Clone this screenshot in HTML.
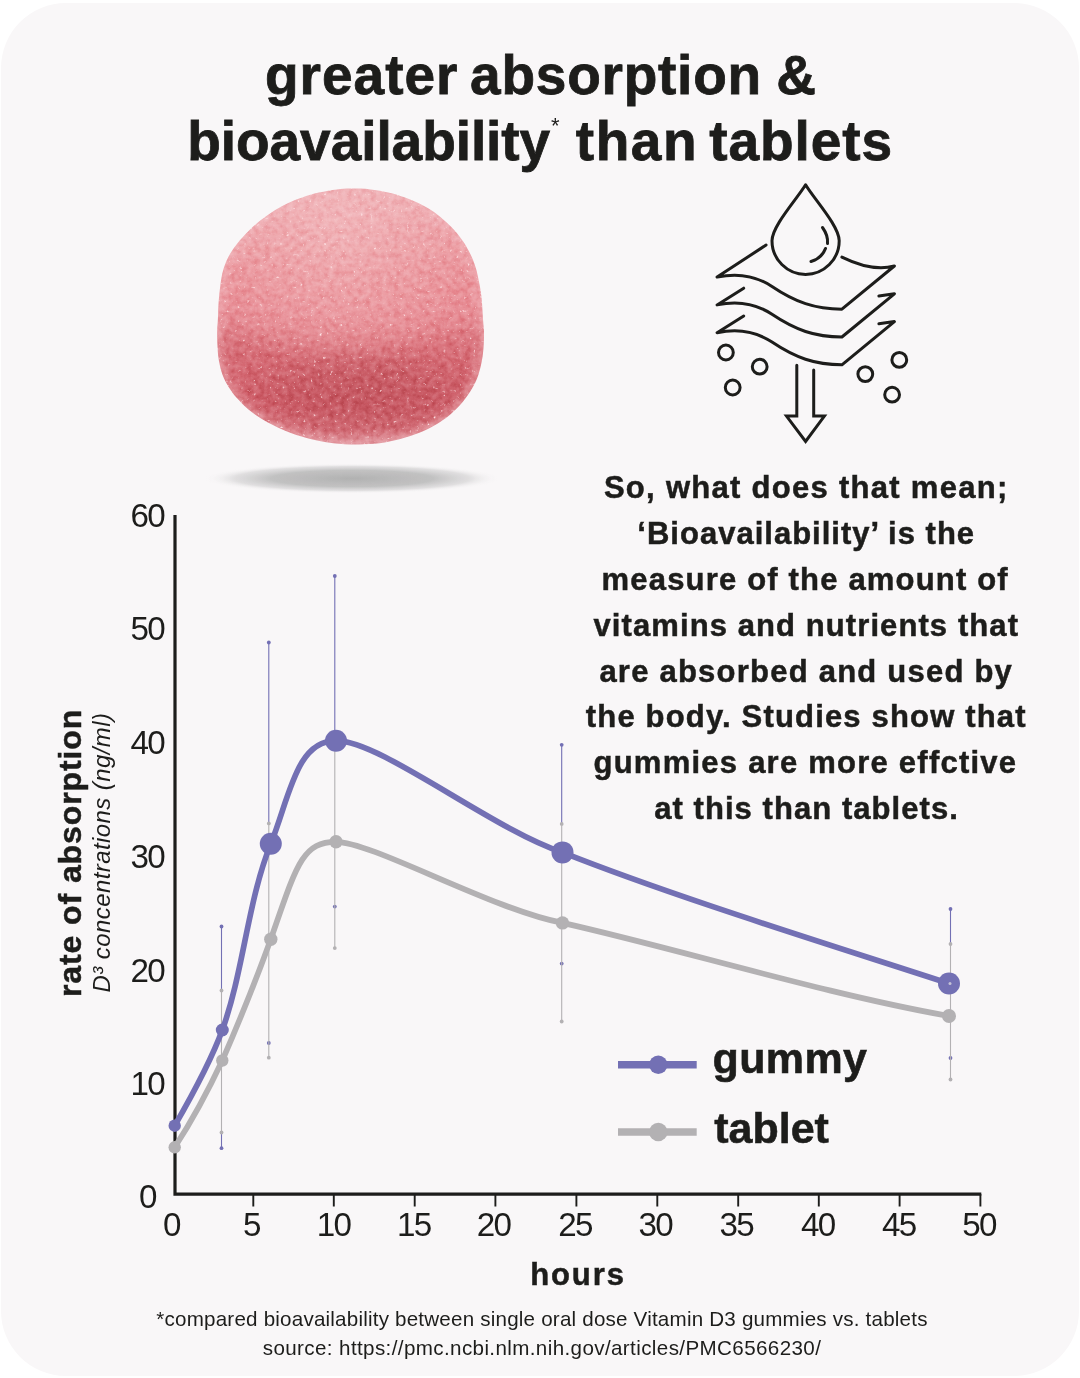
<!DOCTYPE html>
<html lang="en">
<head>
<meta charset="utf-8">
<title>greater absorption &amp; bioavailability than tablets</title>
<style>
  html,body{margin:0;padding:0;background:#ffffff;}
  body{width:1080px;height:1378px;position:relative;overflow:hidden;
       font-family:"Liberation Sans",Arial,Helvetica,sans-serif;color:#1d1d1b;}
  #card{position:absolute;left:1.3px;top:2.6px;width:1077.7px;height:1373.6px;
        border-radius:65px;background:#f9f7f8;}
  h1,#para,#foot{will-change:transform;}
  h1{margin:0;font-weight:bold;font-size:55px;line-height:66px;position:absolute;left:0;top:0;width:1080px;
     -webkit-text-stroke:0.8px #1d1d1b;}
  h1 span{position:absolute;white-space:nowrap;display:block;}
  #t1a{left:265px;top:41.8px;letter-spacing:1.0px;}
  #t1b{left:470.1px;top:41.8px;letter-spacing:0.76px;}
  #t1c{left:776.2px;top:41.8px;}
  #t2a{left:187.3px;top:108.4px;letter-spacing:-0.06px;}
  #t2b{left:551px;top:115px;font-size:22px;font-weight:normal;line-height:22px;-webkit-text-stroke:0;}
  #t2c{left:575.8px;top:108.4px;letter-spacing:1.58px;}
  #t2d{left:709.2px;top:108.4px;letter-spacing:0.95px;}
  #para{position:absolute;left:0;top:0;width:1080px;margin:0;
        font-weight:bold;font-size:31px;line-height:45.85px;letter-spacing:1.15px;-webkit-text-stroke:0.5px #1d1d1b;}
  #para span{position:absolute;display:block;white-space:nowrap;}
  #p1{left:603.9px;top:465.1px;letter-spacing:1.29px;}
  #p2{left:637.3px;top:510.95px;letter-spacing:1.01px;}
  #p3{left:601.6px;top:556.8px;letter-spacing:1.18px;}
  #p4{left:593.5px;top:602.65px;letter-spacing:1.09px;}
  #p5{left:599.4px;top:648.5px;letter-spacing:1.23px;}
  #p6{left:585.8px;top:694.35px;letter-spacing:1.17px;}
  #p7{left:593.5px;top:740.2px;letter-spacing:1.24px;}
  #p8{left:654.2px;top:786.05px;letter-spacing:1.06px;}
  #foot{position:absolute;left:2px;width:1080px;top:1304.5px;margin:0;text-align:center;
        font-size:20.6px;line-height:28.6px;letter-spacing:0.38px;}
  #foot span{display:block;white-space:nowrap;}
  svg{position:absolute;left:0;top:0;}
  svg text{font-family:"Liberation Sans",Arial,Helvetica,sans-serif;fill:#1d1d1b;}
</style>
</head>
<body>
<div id="card"></div>

<h1><span id="t1a">greater</span> <span id="t1b">absorption</span> <span id="t1c">&amp;</span> <span id="t2a">bioavailability</span><span id="t2b">*</span> <span id="t2c">than</span> <span id="t2d">tablets</span></h1>

<p id="para">
<span id="p1">So, what does that mean;</span>
<span id="p2">‘Bioavailability’ is the</span>
<span id="p3">measure of the amount of</span>
<span id="p4">vitamins and nutrients that</span>
<span id="p5">are absorbed and used by</span>
<span id="p6">the body. Studies show that</span>
<span id="p7">gummies are more effctive</span>
<span id="p8">at this than tablets.</span>
</p>

<svg id="art" width="1080" height="1378" viewBox="0 0 1080 1378">
  <defs>
    <linearGradient id="gv" gradientUnits="userSpaceOnUse" x1="0" y1="188" x2="0" y2="445">
      <stop offset="0" stop-color="#e38b90"/>
      <stop offset="0.5" stop-color="#dc7a83"/>
      <stop offset="0.68" stop-color="#d56a74"/>
      <stop offset="0.84" stop-color="#d0606b"/>
      <stop offset="0.94" stop-color="#d36c76"/>
      <stop offset="1" stop-color="#dc8c95"/>
    </linearGradient>
    <linearGradient id="gtop" gradientUnits="userSpaceOnUse" x1="0" y1="188" x2="0" y2="347">
      <stop offset="0" stop-color="#f0b0b5"/>
      <stop offset="0.2" stop-color="#eca1a7"/>
      <stop offset="0.55" stop-color="#e99299"/>
      <stop offset="0.85" stop-color="#e78c94"/>
      <stop offset="1" stop-color="#e28089"/>
    </linearGradient>
    <radialGradient id="gh" gradientUnits="userSpaceOnUse" cx="340" cy="235" r="140">
      <stop offset="0" stop-color="#f8d0d2" stop-opacity="0.4"/>
      <stop offset="1" stop-color="#f8d0d2" stop-opacity="0"/>
    </radialGradient>
    <radialGradient id="gdark" gradientUnits="userSpaceOnUse" cx="0" cy="0" r="1" gradientTransform="translate(362,392) scale(125,46)">
      <stop offset="0" stop-color="#b2464f" stop-opacity="0.36"/>
      <stop offset="0.6" stop-color="#b2464f" stop-opacity="0.2"/>
      <stop offset="1" stop-color="#b2464f" stop-opacity="0"/>
    </radialGradient>
    <path id="gpath" d="M350.0,188.6 C355.6,188.6 363.9,188.6 370.8,189.4 C377.8,190.2 385.4,191.6 391.7,193.2 C397.9,194.8 403.2,196.8 408.3,198.8 C413.4,200.8 417.8,202.7 422.2,205.0 C426.6,207.3 430.8,209.8 434.7,212.6 C438.6,215.4 442.3,218.6 445.8,221.7 C449.3,224.8 452.6,227.9 455.6,231.4 C458.6,234.9 461.4,238.6 463.9,242.5 C466.4,246.4 468.8,250.8 470.8,255.0 C472.8,259.2 474.3,262.9 475.7,267.5 C477.1,272.1 478.2,277.7 479.2,282.8 C480.2,287.9 481.0,292.1 481.6,298.1 C482.2,304.1 482.6,313.2 483.0,318.9 C483.4,324.5 483.9,327.4 484.0,332.0 C484.1,336.6 484.0,341.9 483.6,346.7 C483.2,351.5 482.8,356.0 481.9,360.6 C481.0,365.2 480.1,369.8 478.5,374.4 C476.9,379.0 474.9,383.7 472.2,388.3 C469.5,392.9 466.2,397.8 462.5,402.2 C458.8,406.6 454.4,411.0 450.0,414.7 C445.6,418.4 441.2,421.4 436.1,424.4 C431.0,427.4 424.9,430.5 419.4,432.8 C413.8,435.1 408.6,436.7 402.8,438.3 C397.0,439.9 391.2,441.5 384.7,442.5 C378.2,443.5 370.7,444.0 363.9,444.3 C357.1,444.6 350.7,444.6 343.9,444.2 C337.1,443.8 329.6,442.9 323.1,441.8 C316.6,440.7 310.8,439.2 305.0,437.6 C299.2,436.0 293.4,434.1 288.3,432.1 C283.2,430.1 279.0,428.1 274.4,425.8 C269.8,423.5 265.0,421.0 260.6,418.2 C256.2,415.4 252.1,412.5 248.1,409.2 C244.1,405.9 240.2,401.8 236.9,398.1 C233.7,394.4 231.0,390.8 228.6,386.9 C226.2,382.9 224.0,378.8 222.4,374.4 C220.8,370.0 219.7,365.2 218.9,360.6 C218.1,356.0 217.8,351.8 217.5,346.7 C217.2,341.6 217.1,334.6 217.2,330.0 C217.3,325.4 217.7,323.5 217.9,318.9 C218.1,314.3 218.2,307.8 218.6,302.2 C219.0,296.6 219.6,290.9 220.3,285.6 C221.1,280.3 221.7,275.2 223.1,270.3 C224.5,265.4 226.3,260.8 228.6,256.4 C230.9,252.0 233.7,248.1 236.9,243.9 C240.2,239.7 244.1,235.3 248.1,231.4 C252.1,227.5 256.2,223.8 260.6,220.3 C265.0,216.8 269.8,213.5 274.4,210.6 C279.0,207.7 283.7,205.1 288.3,202.9 C292.9,200.7 297.1,199.1 302.2,197.4 C307.3,195.7 313.1,193.8 318.9,192.5 C324.7,191.2 331.7,190.1 336.9,189.4 C342.1,188.8 344.4,188.6 350.0,188.6 Z"/>
    <clipPath id="gclip"><use href="#gpath"/></clipPath>
    <filter id="b4" filterUnits="userSpaceOnUse" x="190" y="160" width="320" height="310"><feGaussianBlur stdDeviation="4"/></filter>
    <filter id="b6" filterUnits="userSpaceOnUse" x="100" y="130" width="500" height="360"><feGaussianBlur stdDeviation="13"/></filter>
    <radialGradient id="sh" cx="0.5" cy="0.5" r="0.5">
      <stop offset="0" stop-color="#adadad" stop-opacity="0.95"/>
      <stop offset="0.55" stop-color="#b8b8b8" stop-opacity="0.85"/>
      <stop offset="0.8" stop-color="#cfcecf" stop-opacity="0.6"/>
      <stop offset="1" stop-color="#f9f7f8" stop-opacity="0"/>
    </radialGradient>
    <filter id="sugar" filterUnits="userSpaceOnUse" x="210" y="182" width="282" height="270" color-interpolation-filters="sRGB">
      <feTurbulence type="fractalNoise" baseFrequency="0.17" numOctaves="3" seed="5" result="n3"/>
      <feColorMatrix in="n3" type="matrix" values="0.55 0 0 0 0.225  0.55 0 0 0 0.225  0.55 0 0 0 0.225  0 0 0 0 1" result="g3"/>
      <feBlend in="g3" in2="SourceGraphic" mode="soft-light" result="base"/>
      <feTurbulence type="fractalNoise" baseFrequency="0.3" numOctaves="2" seed="11" result="n"/>
      <feColorMatrix in="n" type="matrix" values="0 0 0 0 1  0 0 0 0 0.9  0 0 0 0 0.91  4.2 0 0 0 -2.86" result="sp"/>
      <feMerge><feMergeNode in="base"/><feMergeNode in="sp"/></feMerge>
    </filter>
  </defs>

  <!-- gummy shadow -->
  <ellipse cx="352" cy="478.5" rx="147" ry="15" fill="url(#sh)"/>
  <!-- gummy -->
  <g clip-path="url(#gclip)">
    <g filter="url(#sugar)">
      <rect x="210" y="182" width="282" height="270" fill="url(#gv)"/>
      <ellipse cx="351" cy="263" rx="205" ry="80" fill="url(#gtop)" filter="url(#b6)"/>
      <rect x="210" y="182" width="282" height="270" fill="url(#gdark)"/>
      <rect x="210" y="182" width="282" height="270" fill="url(#gh)"/>
      <use href="#gpath" fill="none" stroke="#f3bcc1" stroke-width="9" opacity="0.55" filter="url(#b4)"/>
    </g>
  </g>

  <!-- absorption icon -->
  <g fill="none" stroke="#1d1d1b" stroke-width="3" stroke-linecap="round" stroke-linejoin="round">
    <!-- drop -->
    <path d="M805.6,184.8 C797,199 772,226 772,240.8 A33.6,33.6 0 0 0 839.2,240.8 C839.2,226 814,199 805.6,184.8 Z"/>
    <path d="M822.5,227.5 C826.5,233 828,238 827.5,243.5"/>
    <path d="M825.5,248.5 C823,255 818,259.5 811,261.5"/>
    <!-- layer 1 -->
    <path d="M766.1,245 L717.1,277.1 C735,273.2 754,274.5 772,286.5 C795,302 815,309.2 841.9,309.2 L894.4,266 C879,270.2 860,266 841.9,257.1"/>
    <!-- layer 2 -->
    <path d="M743.7,288.2 L717.1,304.9 C735,301 754,302.3 772,314.3 C795,329.8 815,337 841.9,337 L894.4,293.8 L878.9,296"/>
    <!-- layer 3 -->
    <path d="M743.7,316 L717.1,332.7 C735,328.8 754,330.1 772,342.1 C795,357.6 815,364.8 841.9,364.8 L894.4,321.6 L878.9,323.8"/>
    <!-- bubbles -->
    <circle cx="725.9" cy="352.5" r="7.4"/>
    <circle cx="759.7" cy="366.7" r="7.4"/>
    <circle cx="732.7" cy="387.5" r="7.4"/>
    <circle cx="899.3" cy="359.9" r="7.4"/>
    <circle cx="865.3" cy="374.1" r="7.4"/>
    <circle cx="892.1" cy="394.7" r="7.4"/>
    <!-- arrow -->
    <path d="M796.8,365.2 L796.8,416.1 L786.5,416.1 L805.6,441.4 L824.4,416.1 L813.7,416.1 L813.7,370" stroke-linejoin="miter"/>
  </g>

  <!-- chart axes -->
  <g stroke="#1d1d1b" fill="none">
    <path d="M175,515 L175,1194.2 L981.3,1194.2" stroke-width="3.2" stroke-linejoin="miter"/>
    <path d="M253.3,1194V1206.5 M333.8,1194V1206.5 M414.7,1194V1206.5 M495.4,1194V1206.5 M576.4,1194V1206.5 M657.3,1194V1206.5 M738.2,1194V1206.5 M818.8,1194V1206.5 M899.6,1194V1206.5 M980.4,1194V1206.5" stroke-width="1.9"/>
  </g>

  <!-- error bars -->
  <g stroke="#7370b4" stroke-width="1.1" fill="#7370b4">
    <path d="M221.5,926.5V990.5 M221.5,1132.5V1148.2 M268.8,642.5V823.4 M334.8,576V741 M561.7,744.8V823.9 M950.5,909V944"/>
    <g stroke="none">
      <circle cx="221.5" cy="926.5" r="1.9"/><circle cx="221.5" cy="1148.2" r="1.9"/>
      <circle cx="268.8" cy="642.5" r="1.9"/><circle cx="268.8" cy="1043" r="1.9"/>
      <circle cx="334.8" cy="576" r="1.9"/><circle cx="334.8" cy="906.6" r="1.9"/>
      <circle cx="561.7" cy="744.8" r="1.9"/><circle cx="561.7" cy="963.6" r="1.9"/>
      <circle cx="950.5" cy="909" r="1.9"/><circle cx="950.5" cy="1058" r="1.9"/>
    </g>
  </g>
  <g stroke="#b3b1b3" stroke-width="1.1" fill="#b3b1b3">
    <path d="M221.5,990.5V1132.5 M268.8,823.4V1057.7 M334.8,745V948.1 M561.7,823.9V1021.5 M950.5,944V1079.5"/>
    <g stroke="none">
      <circle cx="221.5" cy="990.5" r="1.9"/><circle cx="221.5" cy="1132.5" r="1.9"/>
      <circle cx="268.8" cy="823.4" r="1.9"/><circle cx="268.8" cy="1057.7" r="1.9"/>
      <circle cx="334.8" cy="948.1" r="1.9"/>
      <circle cx="561.7" cy="823.9" r="1.9"/><circle cx="561.7" cy="1021.5" r="1.9"/>
      <circle cx="950.5" cy="944" r="1.9"/><circle cx="950.5" cy="1079.5" r="1.9"/>
    </g>
  </g>

  <!-- tablet curve -->
  <g fill="#b3b1b3" stroke="none">
    <path d="M174.7,1147.3 C192.7,1119.6 208.3,1090.4 222.3,1060.5 C239.1,1022 256.5,978.7 270.8,939.2 C296.5,865.6 302,841.8 336,841.8 C372,841.8 492,909.5 562.5,922.9 C679.5,949.3 825,994 949,1016" fill="none" stroke="#b3b1b3" stroke-width="5.7" stroke-linecap="round"/>
    <circle cx="174.7" cy="1147.3" r="6.2"/><circle cx="222.3" cy="1060.5" r="6.2"/>
    <circle cx="270.8" cy="939.2" r="6.7"/><circle cx="336" cy="841.8" r="6.7"/>
    <circle cx="562.5" cy="922.9" r="6.7"/><circle cx="949" cy="1016" r="7"/>
  </g>
  <!-- gummy curve -->
  <g fill="#7370b4" stroke="none">
    <path d="M174.7,1125.7 C192.2,1095.3 210.3,1062.9 222.3,1030 C243.5,971.7 247.6,901.3 270.8,843.8 C289.5,797.5 296,740.7 336,740.7 C381,740.7 492,829 562.5,852.4 C674.1,896.8 835,946.3 949,983.5" fill="none" stroke="#7370b4" stroke-width="5.7" stroke-linecap="round"/>
    <circle cx="174.7" cy="1125.7" r="6.2"/><circle cx="222.3" cy="1030" r="6.5"/>
    <circle cx="270.8" cy="843.8" r="11"/><circle cx="336" cy="740.7" r="11"/>
    <circle cx="562.5" cy="852.4" r="11"/><circle cx="949" cy="983.5" r="11"/>
    <circle cx="950" cy="983.5" r="1.5" fill="#c4c2d6"/>
  </g>

  <!-- legend -->
  <g>
    <path d="M618,1064.8H696.7" stroke="#7370b4" stroke-width="7.6"/>
    <circle cx="658.3" cy="1064.8" r="9.2" fill="#7370b4"/>
    <path d="M618,1132H696.7" stroke="#b3b1b3" stroke-width="7.4"/>
    <circle cx="658.3" cy="1132" r="9.2" fill="#b3b1b3"/>
    <text x="712.5" y="1072.5" font-size="43" font-weight="bold" letter-spacing="0.4" stroke="#1d1d1b" stroke-width="0.6">gummy</text>
    <text x="714.2" y="1143.3" font-size="43" font-weight="bold" stroke="#1d1d1b" stroke-width="0.6">tablet</text>
  </g>

  <!-- axis labels -->
  <g font-size="33.2" text-anchor="end" style="letter-spacing:-1.7px">
    <text x="164.0" y="527.1">60</text>
    <text x="164.0" y="640.3">50</text>
    <text x="164.0" y="754.3">40</text>
    <text x="164.0" y="868.1">30</text>
    <text x="164.0" y="981.9">20</text>
    <text x="164.0" y="1095.4">10</text>
    <text x="155.8" y="1208.1">0</text>
  </g>
  <g font-size="33.2" text-anchor="middle" style="letter-spacing:-1.7px">
    <text x="171.5" y="1236.3">0</text>
    <text x="251.5" y="1236.3">5</text>
    <text x="333.4" y="1236.3">10</text>
    <text x="413.7" y="1236.3">15</text>
    <text x="493.4" y="1236.3">20</text>
    <text x="575.1" y="1236.3">25</text>
    <text x="655.2" y="1236.3">30</text>
    <text x="736.3" y="1236.3">35</text>
    <text x="817.7" y="1236.3">40</text>
    <text x="898.8" y="1236.3">45</text>
    <text x="979.0" y="1236.3">50</text>
  </g>
  <text x="578" y="1285.1" font-size="31" font-weight="bold" text-anchor="middle" letter-spacing="1.9" stroke="#1d1d1b" stroke-width="0.5">hours</text>

  <!-- rotated y axis titles -->
  <text transform="translate(80.7,997) rotate(-90)" font-size="32" font-weight="bold" letter-spacing="0.9" stroke="#1d1d1b" stroke-width="0.5">rate of absorption</text>
  <text transform="translate(110.4,992.5) rotate(-90)" font-size="24" font-style="italic" letter-spacing="0.42">D³ concentrations (ng/ml)</text>
</svg>

<p id="foot">
<span style="letter-spacing:0.2px">*compared bioavailability between single oral dose Vitamin D3 gummies vs. tablets</span>
<span>source: https://pmc.ncbi.nlm.nih.gov/articles/PMC6566230/</span>
</p>
</body>
</html>
